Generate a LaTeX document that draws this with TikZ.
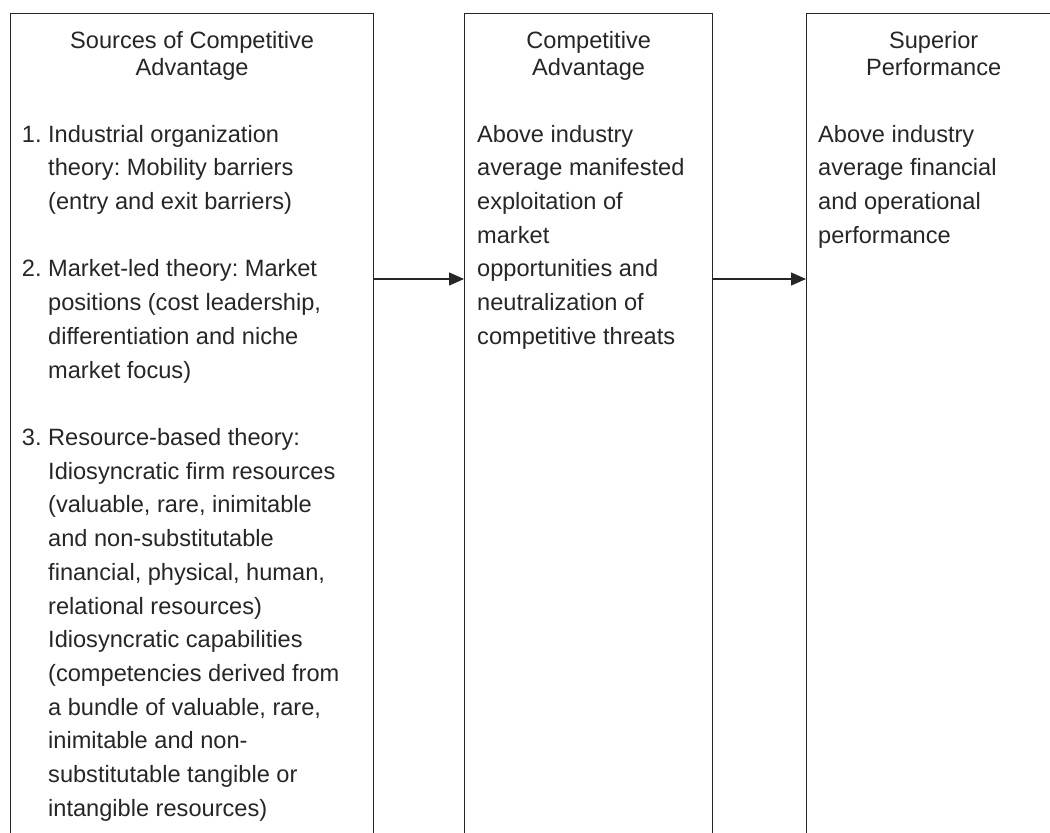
\documentclass[tikz,border=0pt]{standalone}
\usepackage{fontspec}
\setmainfont{Liberation Sans}
\frenchspacing
\usetikzlibrary{arrows.meta, positioning}

\begin{document}
\begin{tikzpicture}[x=1pt, y=1pt,
      box/.style={rectangle, draw=black!85, line width=1.3pt, anchor=north west,
                  minimum height=850pt, inner sep=0pt},
      head/.style={inner sep=0pt, align=center, text=black!85,
                   font=\fontsize{23.6}{27}\selectfont},
      body/.style={inner sep=0pt, align=left, text=black!85,
                   font=\fontsize{23.6}{33.7}\selectfont},
      arr/.style={-{Triangle[length=15pt, width=13pt]}, line width=1.3pt, black!85}
    ]
    \useasboundingbox (0,0) rectangle (1050,-833);

    \node[box, minimum width=363pt] (src) at (10,-13) {};
    \node[box, minimum width=248pt] (adv) at (464,-13) {};
    \node[box, minimum width=254pt] (perf) at (806,-13) {};

    \node[head, below=16.1pt of src.north] (srchead) {\strut Sources of Competitive\\Advantage};
    \node[head, below=16.1pt of adv.north] (advhead) {\strut Competitive\\Advantage};
    \node[head, below=16.1pt of perf.north] (perfhead) {\strut Superior\\Performance};

    \node[body, below right=105.4pt and 38pt of src.north west] (item1)
      {\strut\llap{1. }Industrial organization\\theory: Mobility barriers\\(entry and exit barriers)};
    \node[body, below right=240.2pt and 38pt of src.north west] (item2)
      {\strut\llap{2. }Market-led theory: Market\\positions (cost leadership,\\differentiation and niche\\market focus)};
    \node[body, below right=408.7pt and 38pt of src.north west] (item3)
      {\strut\llap{3. }Resource-based theory:\\Idiosyncratic firm resources\\(valuable, rare, inimitable\\and non-substitutable\\financial, physical, human,\\relational resources)\\Idiosyncratic capabilities\\(competencies derived from\\a bundle of valuable, rare,\\inimitable and non-\\substitutable tangible or\\intangible resources)};

    \node[body, below right=105.4pt and 13pt of adv.north west] (advbody)
      {\strut Above industry\\average manifested\\exploitation of\\market\\opportunities and\\neutralization of\\competitive threats};
    \node[body, below right=105.4pt and 12pt of perf.north west] (perfbody)
      {\strut Above industry\\average financial\\and operational\\performance};

    \coordinate (lvl) at (0,-279);
    \draw[arr] (src.east |- lvl) -- (adv.west |- lvl);
    \draw[arr] (adv.east |- lvl) -- (perf.west |- lvl);
  \end{tikzpicture}
\end{document}
